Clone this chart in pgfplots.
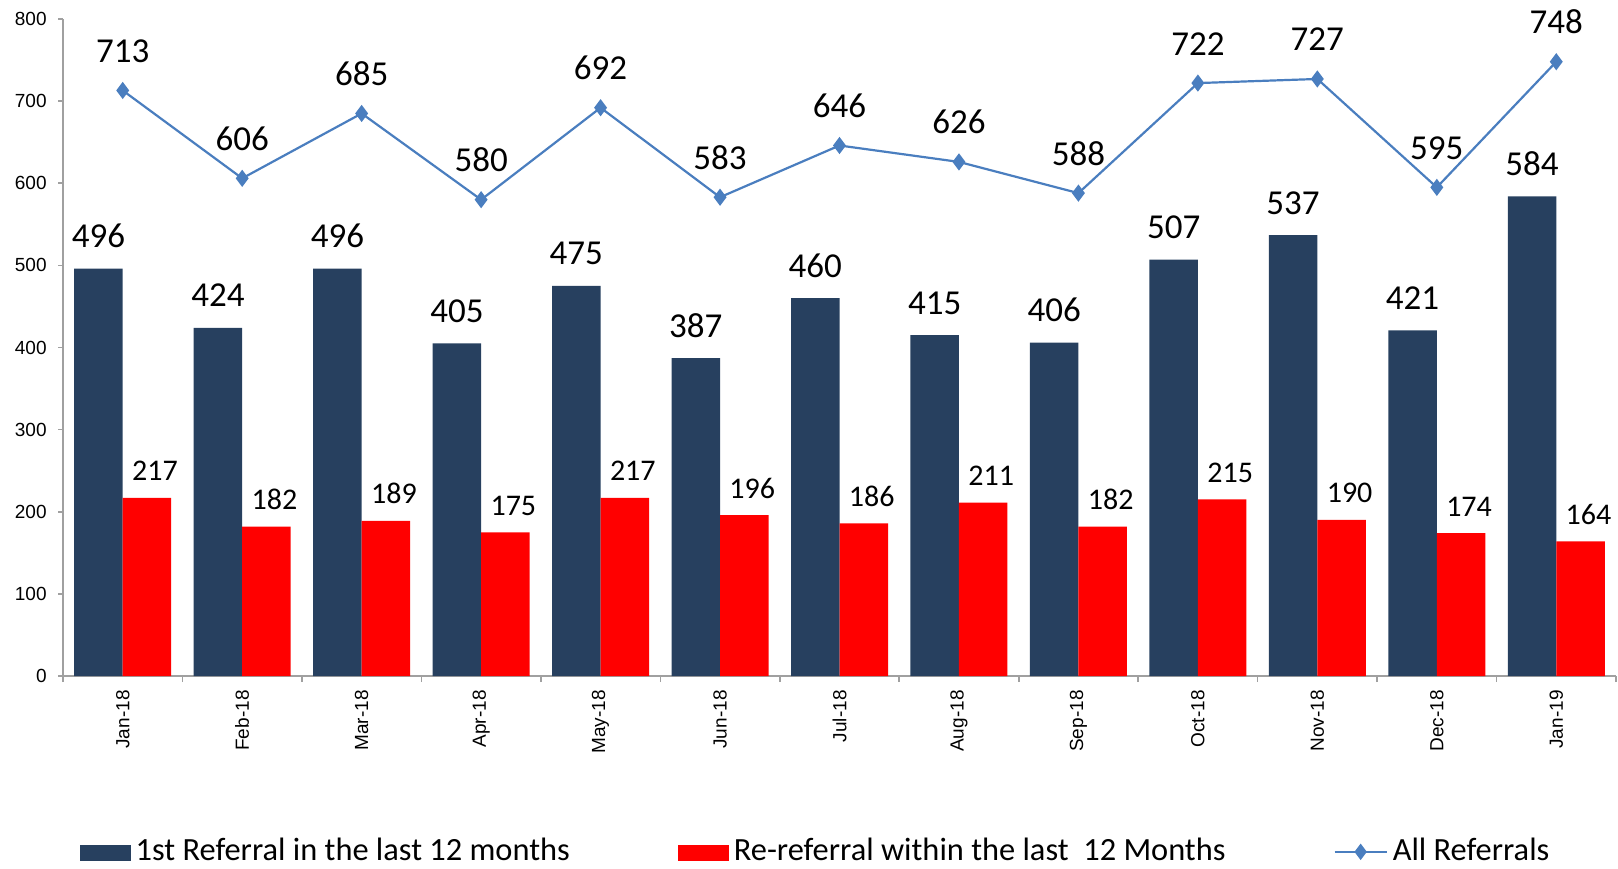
\documentclass[border=0pt]{standalone}
\usepackage{pgfplots}
\pgfplotsset{compat=1.18}
\usepackage{pgfplotstable}
\usepackage{fontspec}
\setmainfont{Carlito}
\newfontfamily\arialf{Liberation Sans}
\definecolor{navy}{HTML}{27405F}
\definecolor{lineblue}{HTML}{4A7EBF}
\definecolor{axgray}{HTML}{A0A0A0}

\pgfplotstableread{
x first re all
0 496 217 713
1 424 182 606
2 496 189 685
3 405 175 580
4 475 217 692
5 387 196 583
6 460 186 646
7 415 211 626
8 406 182 588
9 507 215 722
10 537 190 727
11 421 174 595
12 584 164 748
}\datatable

\begin{document}
\begin{tikzpicture}
\path[use as bounding box] (0,0) rectangle (809pt,-434pt);
\begin{axis}[
  at={(31.5pt,-338pt)}, anchor=south west,
  scale only axis, width=776.5pt, height=328.5pt,
  xmin=-0.5, xmax=12.5, ymin=0, ymax=800,
  axis x line*=bottom, axis y line*=left,
  axis line style={draw=axgray, line width=0.8pt, -},
  xtick={0,...,12},
  xticklabels={Jan-18,Feb-18,Mar-18,Apr-18,May-18,Jun-18,Jul-18,Aug-18,Sep-18,Oct-18,Nov-18,Dec-18,Jan-19},
  minor xtick={-0.5,0.5,...,12.5},
  ytick={0,100,...,800},
  tick align=outside,
  major x tick style={draw=none},
  minor x tick style={draw=axgray, line width=0.8pt},
  y tick style={draw=axgray, line width=0.8pt},
  major tick length=2.5pt, minor tick length=3pt,
  ticklabel style={font=\arialf\fontsize{9.5}{11}\selectfont},
  /pgf/number format/assume math mode=true,
  xticklabel style={rotate=90, anchor=east, inner sep=0pt},
  xticklabel shift=4.5pt,
  yticklabel style={anchor=east, inner sep=0pt},
  yticklabel shift=5.5pt,
  legend columns=3,
  legend style={at={(0.0105,-0.2865)}, anchor=south west, draw=none, inner sep=0pt,
    font=\fontsize{16.2}{18}\selectfont,
    cells={anchor=base west}, nodes={inner sep=0pt},
    /tikz/every odd column/.append style={column sep=2.5pt},
    /tikz/every even column/.append style={column sep=54pt}},
]
\addplot[ybar, bar width=24.25pt, bar shift=-12.125pt, fill=navy, draw=none,
  nodes near coords,
  every node near coord/.append style={font=\fontsize{17.5}{20}\selectfont, text=black, anchor=base, xshift=-12.125pt, yshift=10.5pt, inner sep=0pt},
  legend image code/.code={\fill[navy] (0pt,0pt) rectangle (25.5pt,8pt);}]
  table[x=x, y=first] {\datatable};
\addlegendentry{1st Referral in the last 12 months}
\addplot[ybar, bar width=24.25pt, bar shift=12.125pt, fill=red, draw=none,
  nodes near coords,
  every node near coord/.append style={font=\fontsize{15}{18}\selectfont, text=black, anchor=base, xshift=16.125pt, yshift=8.5pt, inner sep=0pt},
  legend image code/.code={\fill[red] (0pt,0pt) rectangle (25.5pt,8pt);}]
  table[x=x, y=re] {\datatable};
\addlegendentry{Re-referral within the last\ \ 12 Months}
\addplot[sharp plot, color=lineblue, line width=1.1pt, mark=diamond*, mark size=3.4pt, mark options={solid, fill=lineblue},
  nodes near coords,
  every node near coord/.append style={font=\fontsize{17.5}{20}\selectfont, text=black, anchor=base, yshift=14pt, inner sep=0pt},
  legend image code/.code={\draw[lineblue, line width=1.1pt] (0pt,4.5pt) -- (26pt,4.5pt); \fill[lineblue] (13pt,4.5pt) +(0,3.2pt) -- +(2.4pt,0) -- +(0,-3.2pt) -- +(-2.4pt,0) -- cycle;}]
  table[x=x, y=all] {\datatable};
\addlegendentry{All Referrals}
\end{axis}
\end{tikzpicture}
\end{document}
